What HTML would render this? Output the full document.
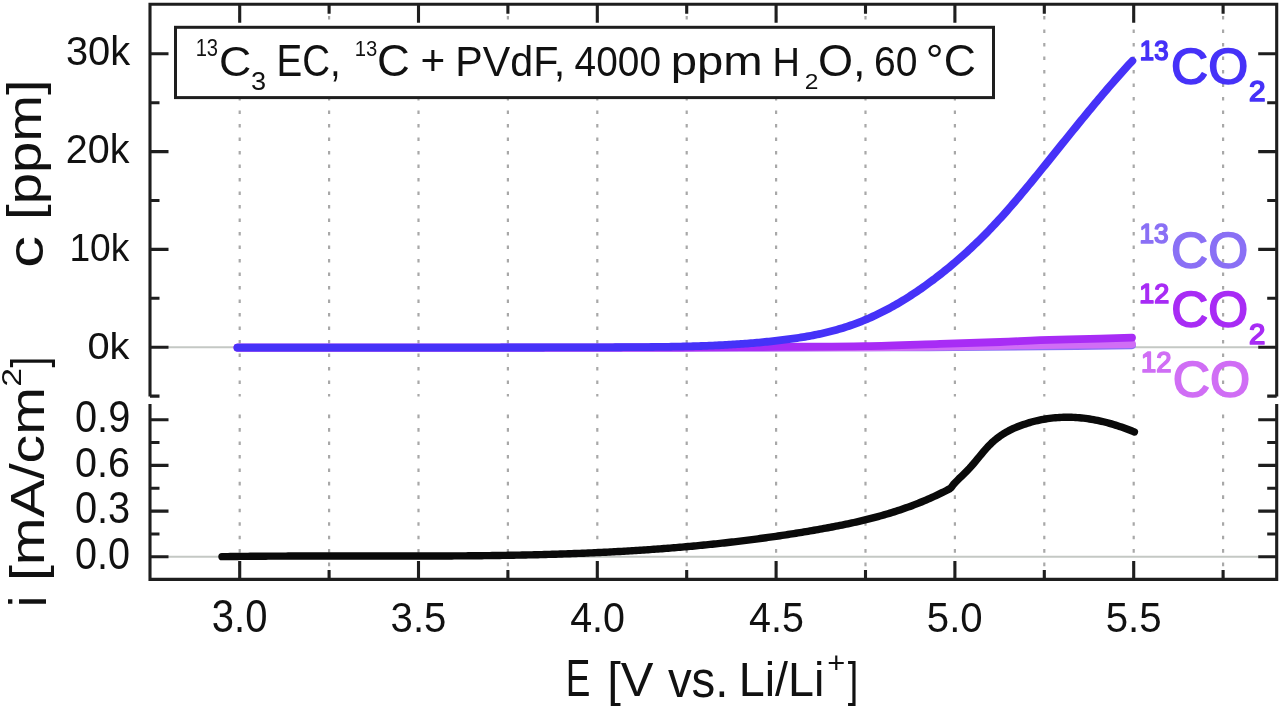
<!DOCTYPE html>
<html><head><meta charset="utf-8"><title>Gas evolution vs potential</title><style>
html,body{margin:0;padding:0;background:#fff;width:1280px;height:706px;overflow:hidden}
svg{display:block}
text{font-family:"Liberation Sans",Arial,sans-serif}
.g{stroke:#a8a8a8;stroke-width:2.2}
.gu{stroke-dasharray:3.6 9.9;stroke-dashoffset:1.8}
.gl{stroke-dasharray:3.6 9.85;stroke-dashoffset:3.85}
.z{stroke:#c4c8c4;stroke-width:2}
.c{fill:none;stroke-width:7.8;stroke-linecap:round;stroke-linejoin:round}
.ax{fill:none;stroke:#1e1e1e;stroke-width:3.1;stroke-linecap:butt;stroke-linejoin:miter}
</style></head><body>
<svg width="1280" height="706" viewBox="0 0 1280 706">
<rect width="1280" height="706" fill="#fff"/>
<line x1="239.7" y1="4.3" x2="239.7" y2="396.5" class="g gu"/>
<line x1="239.7" y1="405" x2="239.7" y2="579.4" class="g gl"/>
<line x1="329.1" y1="4.3" x2="329.1" y2="396.5" class="g gu"/>
<line x1="329.1" y1="405" x2="329.1" y2="579.4" class="g gl"/>
<line x1="418.5" y1="4.3" x2="418.5" y2="396.5" class="g gu"/>
<line x1="418.5" y1="405" x2="418.5" y2="579.4" class="g gl"/>
<line x1="507.9" y1="4.3" x2="507.9" y2="396.5" class="g gu"/>
<line x1="507.9" y1="405" x2="507.9" y2="579.4" class="g gl"/>
<line x1="597.3" y1="4.3" x2="597.3" y2="396.5" class="g gu"/>
<line x1="597.3" y1="405" x2="597.3" y2="579.4" class="g gl"/>
<line x1="686.7" y1="4.3" x2="686.7" y2="396.5" class="g gu"/>
<line x1="686.7" y1="405" x2="686.7" y2="579.4" class="g gl"/>
<line x1="776.1" y1="4.3" x2="776.1" y2="396.5" class="g gu"/>
<line x1="776.1" y1="405" x2="776.1" y2="579.4" class="g gl"/>
<line x1="865.5" y1="4.3" x2="865.5" y2="396.5" class="g gu"/>
<line x1="865.5" y1="405" x2="865.5" y2="579.4" class="g gl"/>
<line x1="954.9" y1="4.3" x2="954.9" y2="396.5" class="g gu"/>
<line x1="954.9" y1="405" x2="954.9" y2="579.4" class="g gl"/>
<line x1="1044.3" y1="4.3" x2="1044.3" y2="396.5" class="g gu"/>
<line x1="1044.3" y1="405" x2="1044.3" y2="579.4" class="g gl"/>
<line x1="1133.7" y1="4.3" x2="1133.7" y2="396.5" class="g gu"/>
<line x1="1133.7" y1="405" x2="1133.7" y2="579.4" class="g gl"/>
<line x1="1223.1" y1="4.3" x2="1223.1" y2="396.5" class="g gu"/>
<line x1="1223.1" y1="405" x2="1223.1" y2="579.4" class="g gl"/>
<line x1="168" y1="347.2" x2="1258" y2="347.2" class="z"/>
<line x1="168" y1="556.8" x2="1258" y2="556.8" class="z"/>
<rect x="175.5" y="27.3" width="818" height="70.3" fill="#fff" stroke="#1e1e1e" stroke-width="3"/>
<path d="M237.5,347.6 C314.58,347.6 595.42,347.63 700,347.6 C804.58,347.57 822.5,347.48 865,347.4 C907.5,347.32 925.17,347.27 955,347.1 C984.83,346.93 1014.5,346.7 1044,346.4 C1073.5,346.1 1117.33,345.48 1132,345.3" class="c" stroke="#8a70f5"/>
<path d="M237.5,347.6 C314.58,347.6 595.42,347.65 700,347.6 C804.58,347.55 825,347.47 865,347.3 C905,347.13 917.5,346.85 940,346.6 C962.5,346.35 983.33,346.07 1000,345.8 C1016.67,345.53 1018,345.3 1040,345 C1062,344.7 1116.67,344.17 1132,344" class="c" stroke="#d06ef5"/>
<path d="M237.5,347.6 C297.92,347.6 522.92,347.63 600,347.6 C677.08,347.57 670.67,347.52 700,347.4 C729.33,347.28 748.5,347.1 776,346.9 C803.5,346.7 837.67,346.7 865,346.2 C892.33,345.7 917.5,344.6 940,343.9 C962.5,343.2 983.33,342.62 1000,342 C1016.67,341.38 1023.33,340.77 1040,340.2 C1056.67,339.63 1084.67,339.03 1100,338.6 C1115.33,338.17 1126.67,337.77 1132,337.6" class="c" stroke="#a82cf5"/>
<path d="M237.5,347.6 L239.5,347.6 L241.5,347.6 L243.5,347.6 L245.5,347.6 L247.5,347.6 L249.5,347.61 L251.5,347.61 L253.5,347.61 L255.5,347.61 L257.5,347.61 L259.5,347.61 L261.5,347.61 L263.5,347.61 L265.5,347.61 L267.5,347.61 L269.5,347.61 L271.5,347.61 L273.5,347.61 L275.5,347.61 L277.5,347.61 L279.5,347.61 L281.5,347.61 L283.5,347.62 L285.5,347.62 L287.5,347.62 L289.5,347.62 L291.5,347.62 L293.5,347.62 L295.5,347.62 L297.5,347.62 L299.5,347.62 L301.5,347.62 L303.5,347.62 L305.5,347.62 L307.5,347.62 L309.5,347.62 L311.5,347.62 L313.5,347.62 L315.5,347.62 L317.5,347.62 L319.5,347.62 L321.5,347.62 L323.5,347.62 L325.5,347.62 L327.5,347.62 L329.5,347.62 L331.5,347.62 L333.5,347.62 L335.5,347.62 L337.5,347.62 L339.5,347.62 L341.5,347.62 L343.5,347.62 L345.5,347.62 L347.5,347.62 L349.5,347.62 L351.5,347.62 L353.5,347.62 L355.5,347.61 L357.5,347.61 L359.5,347.61 L361.5,347.61 L363.5,347.61 L365.5,347.61 L367.5,347.61 L369.5,347.61 L371.5,347.61 L373.5,347.61 L375.5,347.61 L377.5,347.61 L379.5,347.61 L381.5,347.61 L383.5,347.61 L385.5,347.61 L387.5,347.61 L389.5,347.6 L391.5,347.6 L393.5,347.6 L395.5,347.6 L397.5,347.6 L399.5,347.6 L401.5,347.6 L403.5,347.6 L405.5,347.6 L407.5,347.6 L409.5,347.6 L411.5,347.59 L413.5,347.59 L415.5,347.59 L417.5,347.59 L419.5,347.59 L421.5,347.59 L423.5,347.59 L425.5,347.59 L427.5,347.59 L429.5,347.58 L431.5,347.58 L433.5,347.58 L435.5,347.58 L437.5,347.58 L439.5,347.58 L441.5,347.58 L443.5,347.57 L445.5,347.57 L447.5,347.57 L449.5,347.57 L451.5,347.57 L453.5,347.57 L455.5,347.57 L457.5,347.56 L459.5,347.56 L461.5,347.56 L463.5,347.56 L465.5,347.56 L467.5,347.56 L469.5,347.55 L471.5,347.55 L473.5,347.55 L475.5,347.55 L477.5,347.55 L479.5,347.55 L481.5,347.54 L483.5,347.54 L485.5,347.54 L487.5,347.54 L489.5,347.54 L491.5,347.53 L493.5,347.53 L495.5,347.53 L497.5,347.53 L499.5,347.53 L501.5,347.52 L503.5,347.52 L505.5,347.52 L507.5,347.52 L509.5,347.52 L511.5,347.51 L513.5,347.51 L515.5,347.51 L517.5,347.51 L519.5,347.5 L521.5,347.5 L523.5,347.5 L525.5,347.5 L527.5,347.5 L529.5,347.49 L531.5,347.49 L533.5,347.49 L535.5,347.49 L537.5,347.48 L539.5,347.48 L541.5,347.48 L543.5,347.48 L545.5,347.47 L547.5,347.47 L549.5,347.47 L551.5,347.47 L553.5,347.46 L555.5,347.46 L557.5,347.46 L559.5,347.45 L561.5,347.45 L563.5,347.45 L565.5,347.45 L567.5,347.44 L569.5,347.44 L571.5,347.44 L573.5,347.44 L575.5,347.43 L577.5,347.43 L579.5,347.43 L581.5,347.42 L583.5,347.42 L585.5,347.42 L587.5,347.41 L589.5,347.41 L591.5,347.41 L593.5,347.41 L595.5,347.4 L597,347.4 L599,347.38 L601,347.36 L603,347.35 L605,347.33 L607,347.32 L609,347.3 L611,347.29 L613,347.28 L615,347.27 L617,347.25 L619,347.24 L621,347.23 L623,347.22 L625,347.21 L627,347.19 L629,347.18 L631,347.17 L633,347.16 L635,347.14 L637,347.13 L639,347.11 L641,347.1 L643,347.08 L645,347.07 L647,347.05 L649,347.03 L651,347.01 L653,346.99 L655,346.97 L657,346.95 L659,346.92 L661,346.9 L663,346.87 L665,346.84 L667,346.81 L669,346.78 L671,346.75 L673,346.71 L675,346.68 L677,346.64 L679,346.6 L681,346.55 L683,346.51 L685,346.46 L687,346.41 L689,346.36 L691,346.31 L693,346.25 L695,346.19 L697,346.13 L699,346.06 L701,346 L703,345.93 L705,345.85 L707,345.78 L709,345.7 L711,345.62 L713,345.53 L715,345.44 L717,345.35 L719,345.25 L721,345.16 L723,345.05 L725,344.95 L727,344.84 L729,344.72 L731,344.61 L733,344.48 L735,344.36 L737,344.23 L739,344.1 L741,343.96 L743,343.82 L745,343.67 L747,343.52 L749,343.36 L751,343.2 L753,343.04 L755,342.87 L757,342.7 L759,342.52 L761,342.33 L763,342.14 L765,341.95 L767,341.75 L769,341.55 L771,341.34 L773,341.12 L775,340.9 L777,340.68 L779,340.45 L781,340.21 L783,339.97 L785,339.72 L787,339.46 L789,339.2 L791,338.93 L793,338.65 L795,338.36 L797,338.07 L799,337.76 L801,337.45 L803,337.13 L805,336.79 L807,336.45 L809,336.09 L811,335.72 L813,335.34 L815,334.95 L817,334.54 L819,334.13 L821,333.69 L823,333.25 L825,332.79 L827,332.31 L829,331.82 L831,331.31 L833,330.79 L835,330.25 L837,329.7 L839,329.12 L841,328.53 L843,327.92 L845,327.29 L847,326.65 L849,325.98 L851,325.29 L853,324.59 L855,323.86 L857,323.11 L859,322.35 L861,321.56 L863,320.75 L865,319.93 L867,319.08 L869,318.22 L871,317.33 L873,316.42 L875,315.5 L877,314.55 L879,313.58 L881,312.6 L883,311.59 L885,310.56 L887,309.52 L889,308.45 L891,307.37 L893,306.26 L895,305.13 L897,303.99 L899,302.82 L901,301.63 L903,300.43 L905,299.2 L907,297.95 L909,296.69 L911,295.4 L913,294.1 L915,292.77 L917,291.43 L919,290.07 L921,288.68 L923,287.28 L925,285.86 L927,284.43 L929,282.97 L931,281.49 L933,280 L935,278.49 L937,276.96 L939,275.42 L941,273.85 L943,272.27 L945,270.67 L947,269.05 L949,267.41 L951,265.75 L953,264.07 L955,262.37 L957,260.66 L959,258.92 L961,257.16 L963,255.39 L965,253.59 L967,251.77 L969,249.93 L971,248.07 L973,246.19 L975,244.29 L977,242.37 L979,240.42 L981,238.45 L983,236.46 L985,234.45 L987,232.41 L989,230.35 L991,228.27 L993,226.16 L995,224.03 L997,221.88 L999,219.71 L1001,217.51 L1003,215.3 L1005,213.06 L1007,210.81 L1009,208.53 L1011,206.23 L1013,203.92 L1015,201.59 L1017,199.24 L1019,196.88 L1021,194.51 L1023,192.12 L1025,189.72 L1027,187.3 L1029,184.88 L1031,182.44 L1033,180 L1035,177.55 L1037,175.09 L1039,172.62 L1041,170.15 L1043,167.67 L1045,165.19 L1047,162.71 L1049,160.22 L1051,157.73 L1053,155.25 L1055,152.76 L1057,150.27 L1059,147.78 L1061,145.3 L1063,142.81 L1065,140.33 L1067,137.85 L1069,135.37 L1071,132.89 L1073,130.42 L1075,127.95 L1077,125.49 L1079,123.03 L1081,120.58 L1083,118.13 L1085,115.69 L1087,113.26 L1089,110.83 L1091,108.41 L1093,106 L1095,103.6 L1097,101.21 L1099,98.82 L1101,96.45 L1103,94.08 L1105,91.73 L1107,89.39 L1109,87.06 L1111,84.74 L1113,82.43 L1115,80.14 L1117,77.86 L1119,75.59 L1121,73.34 L1123,71.1 L1125,68.88 L1127,66.67 L1129,64.48 L1131,62.3 L1132.4,60.79" class="c" stroke="#4632f8"/>
<path d="M222,556.67 L224,556.64 L226,556.61 L228,556.58 L230,556.55 L232,556.53 L234,556.5 L236,556.47 L238,556.45 L240,556.42 L242,556.4 L244,556.38 L246,556.36 L248,556.34 L250,556.32 L252,556.3 L254,556.28 L256,556.26 L258,556.24 L260,556.23 L262,556.21 L264,556.2 L266,556.18 L268,556.17 L270,556.16 L272,556.15 L274,556.13 L276,556.12 L278,556.11 L280,556.1 L282,556.09 L284,556.08 L286,556.08 L288,556.07 L290,556.06 L292,556.06 L294,556.05 L296,556.04 L298,556.04 L300,556.03 L302,556.03 L304,556.03 L306,556.02 L308,556.02 L310,556.02 L312,556.01 L314,556.01 L316,556.01 L318,556.01 L320,556.01 L322,556.01 L324,556.01 L326,556.01 L328,556.01 L330,556.01 L332,556.01 L334,556.01 L336,556.01 L338,556.01 L340,556.01 L342,556.01 L344,556.01 L346,556.02 L348,556.02 L350,556.02 L352,556.02 L354,556.02 L356,556.03 L358,556.03 L360,556.03 L362,556.03 L364,556.03 L366,556.04 L368,556.04 L370,556.04 L372,556.04 L374,556.04 L376,556.05 L378,556.05 L380,556.05 L382,556.05 L384,556.05 L386,556.05 L388,556.06 L390,556.06 L392,556.06 L394,556.06 L396,556.06 L398,556.06 L400,556.06 L402,556.06 L404,556.06 L406,556.06 L408,556.06 L410,556.05 L412,556.05 L414,556.05 L416,556.05 L418,556.04 L420,556.04 L422,556.04 L424,556.03 L426,556.03 L428,556.02 L430,556.02 L432,556.01 L434,556.01 L436,556 L438,555.99 L440,555.99 L442,555.98 L444,555.97 L446,555.96 L448,555.95 L450,555.94 L452,555.93 L454,555.91 L456,555.9 L458,555.89 L460,555.88 L462,555.86 L464,555.85 L466,555.83 L468,555.81 L470,555.8 L472,555.78 L474,555.76 L476,555.74 L478,555.72 L480,555.7 L482,555.68 L484,555.66 L486,555.63 L488,555.61 L490,555.58 L492,555.56 L494,555.53 L496,555.5 L498,555.47 L500,555.44 L502,555.41 L504,555.38 L506,555.35 L508,555.31 L510,555.28 L512,555.24 L514,555.21 L516,555.17 L518,555.13 L520,555.09 L522,555.05 L524,555.01 L526,554.97 L528,554.92 L530,554.88 L532,554.83 L534,554.78 L536,554.73 L538,554.68 L540,554.63 L542,554.58 L544,554.53 L546,554.47 L548,554.42 L550,554.36 L552,554.3 L554,554.24 L556,554.18 L558,554.12 L560,554.05 L562,553.99 L564,553.92 L566,553.85 L568,553.78 L570,553.71 L572,553.64 L574,553.57 L576,553.49 L578,553.42 L580,553.34 L582,553.26 L584,553.18 L586,553.09 L588,553.01 L590,552.92 L592,552.84 L594,552.75 L596,552.66 L598,552.57 L600,552.47 L602,552.38 L604,552.28 L606,552.18 L608,552.08 L610,551.98 L612,551.88 L614,551.77 L616,551.66 L618,551.56 L620,551.44 L622,551.33 L624,551.22 L626,551.1 L628,550.99 L630,550.87 L632,550.74 L634,550.62 L636,550.5 L638,550.37 L640,550.24 L642,550.11 L644,549.98 L646,549.84 L648,549.71 L650,549.57 L652,549.43 L654,549.29 L656,549.14 L658,549 L660,548.85 L662,548.7 L664,548.54 L666,548.39 L668,548.23 L670,548.07 L672,547.91 L674,547.75 L676,547.59 L678,547.42 L680,547.25 L682,547.08 L684,546.9 L686,546.73 L688,546.55 L690,546.37 L692,546.19 L694,546 L696,545.81 L698,545.62 L700,545.43 L702,545.24 L704,545.04 L706,544.84 L708,544.64 L710,544.44 L712,544.23 L714,544.03 L716,543.81 L718,543.6 L720,543.39 L722,543.17 L724,542.95 L726,542.73 L728,542.5 L730,542.27 L732,542.04 L734,541.81 L736,541.57 L738,541.33 L740,541.09 L742,540.85 L744,540.61 L746,540.36 L748,540.11 L750,539.85 L752,539.6 L754,539.34 L756,539.08 L758,538.81 L760,538.54 L762,538.27 L764,538 L766,537.73 L768,537.45 L770,537.17 L772,536.88 L774,536.6 L776,536.31 L778,536.02 L780,535.72 L782,535.42 L784,535.12 L786,534.82 L788,534.51 L790,534.2 L792,533.89 L794,533.57 L796,533.26 L798,532.94 L800,532.61 L802,532.28 L804,531.95 L806,531.62 L808,531.28 L810,530.94 L812,530.6 L814,530.26 L816,529.91 L818,529.56 L820,529.2 L822,528.84 L824,528.48 L826,528.12 L828,527.75 L830,527.38 L832,527 L834,526.62 L836,526.23 L838,525.84 L840,525.44 L842,525.04 L844,524.63 L846,524.22 L848,523.8 L850,523.37 L852,522.94 L854,522.5 L856,522.05 L858,521.59 L860,521.13 L862,520.66 L864,520.18 L866,519.7 L868,519.2 L870,518.7 L872,518.18 L874,517.66 L876,517.13 L878,516.59 L880,516.04 L882,515.47 L884,514.9 L886,514.32 L888,513.73 L890,513.12 L892,512.5 L894,511.88 L896,511.24 L898,510.58 L900,509.92 L902,509.24 L904,508.55 L906,507.85 L908,507.13 L910,506.4 L912,505.66 L914,504.9 L916,504.13 L918,503.34 L920,502.54 L922,501.73 L924,500.9 L926,500.05 L928,499.19 L930,498.31 L932,497.42 L934,496.5 L936,495.58 L938,494.63 L940,493.67 L942,492.69 L944,491.7 L946,490.68 L948,489.65 L950,488.6 L951.5,487.2 L953.5,484.37 L955.5,482.26 L957.5,480.23 L959.5,478.24 L961.5,476.28 L963.5,474.33 L965.5,472.35 L967.5,470.32 L969.5,468.23 L971.5,466.04 L973.5,463.75 L975.5,461.37 L977.5,458.95 L979.5,456.5 L981.5,454.07 L983.5,451.68 L985.5,449.35 L987.5,447.12 L989.5,445.03 L991.5,443.06 L993.5,441.23 L995.5,439.52 L997.5,437.92 L999.5,436.43 L1001.5,435.05 L1003.5,433.75 L1005.5,432.55 L1007.5,431.43 L1009.5,430.38 L1011.5,429.4 L1013.5,428.47 L1015.5,427.61 L1017.5,426.79 L1019.5,426.01 L1021.5,425.26 L1023.5,424.56 L1025.5,423.88 L1027.5,423.24 L1029.5,422.63 L1031.5,422.06 L1033.5,421.52 L1035.5,421.02 L1037.5,420.54 L1039.5,420.1 L1041.5,419.7 L1043.5,419.32 L1045.5,418.98 L1047.5,418.67 L1049.5,418.39 L1051.5,418.14 L1053.5,417.92 L1055.5,417.73 L1057.5,417.57 L1059.5,417.45 L1061.5,417.35 L1063.5,417.28 L1065.5,417.25 L1067.5,417.24 L1069.5,417.26 L1071.5,417.31 L1073.5,417.38 L1075.5,417.49 L1077.5,417.62 L1079.5,417.78 L1081.5,417.97 L1083.5,418.19 L1085.5,418.43 L1087.5,418.7 L1089.5,418.99 L1091.5,419.31 L1093.5,419.66 L1095.5,420.03 L1097.5,420.43 L1099.5,420.85 L1101.5,421.3 L1103.5,421.77 L1105.5,422.27 L1107.5,422.79 L1109.5,423.34 L1111.5,423.9 L1113.5,424.49 L1115.5,425.11 L1117.5,425.74 L1119.5,426.4 L1121.5,427.08 L1123.5,427.79 L1125.5,428.51 L1127.5,429.26 L1129.5,430.03 L1131.5,430.81 L1133.5,431.62 L1134.4,431.99" class="c" stroke="#0a0a0a" style="stroke-width:7.4"/>
<path d="M150,396.5 V4.3 H1276.7 V396.5 M150,404 V579.4 H1276.7 V404 M239.7,4.3 v18.5 M239.7,579.4 v-18.5 M329.1,4.3 v9.5 M329.1,579.4 v-9.5 M418.5,4.3 v18.5 M418.5,579.4 v-18.5 M507.9,4.3 v9.5 M507.9,579.4 v-9.5 M597.3,4.3 v18.5 M597.3,579.4 v-18.5 M686.7,4.3 v9.5 M686.7,579.4 v-9.5 M776.1,4.3 v18.5 M776.1,579.4 v-18.5 M865.5,4.3 v9.5 M865.5,579.4 v-9.5 M954.9,4.3 v18.5 M954.9,579.4 v-18.5 M1044.3,4.3 v9.5 M1044.3,579.4 v-9.5 M1133.7,4.3 v18.5 M1133.7,579.4 v-18.5 M1223.1,4.3 v9.5 M1223.1,579.4 v-9.5 M150,396.1 h9.5 M1276.7,396.1 h-9.5 M150,347.2 h18.5 M1276.7,347.2 h-18.5 M150,298.3 h9.5 M1276.7,298.3 h-9.5 M150,249.4 h18.5 M1276.7,249.4 h-18.5 M150,200.5 h9.5 M1276.7,200.5 h-9.5 M150,151.6 h18.5 M1276.7,151.6 h-18.5 M150,102.7 h9.5 M1276.7,102.7 h-9.5 M150,53.8 h18.5 M1276.7,53.8 h-18.5 M150,556.8 h18.5 M1276.7,556.8 h-18.5 M150,533.95 h9.5 M1276.7,533.95 h-9.5 M150,511.1 h18.5 M1276.7,511.1 h-18.5 M150,488.25 h9.5 M1276.7,488.25 h-9.5 M150,465.4 h18.5 M1276.7,465.4 h-18.5 M150,442.55 h9.5 M1276.7,442.55 h-9.5 M150,419.7 h18.5 M1276.7,419.7 h-18.5" class="ax"/>
<text id="u30" x="65.91" y="65.46" font-size="41.52" textLength="64.23" lengthAdjust="spacingAndGlyphs" fill="#111">30k</text>
<text id="u20" x="65.87" y="163.41" font-size="39.79" textLength="63.72" lengthAdjust="spacingAndGlyphs" fill="#111">20k</text>
<text id="u10" x="69.46" y="261.25" font-size="38.41" textLength="59.93" lengthAdjust="spacingAndGlyphs" fill="#111">10k</text>
<text id="u0" x="87.4" y="359" font-size="37.61" textLength="42.06" lengthAdjust="spacingAndGlyphs" fill="#111">0k</text>
<text id="l9" x="75" y="432" font-size="44.54" textLength="55.24" lengthAdjust="spacingAndGlyphs" fill="#111">0.9</text>
<text id="l6" x="75.03" y="477.38" font-size="41.72" textLength="54.94" lengthAdjust="spacingAndGlyphs" fill="#111">0.6</text>
<text id="l3" x="74.88" y="523.44" font-size="44.49" textLength="55.38" lengthAdjust="spacingAndGlyphs" fill="#111">0.3</text>
<text id="l0" x="74.89" y="569.18" font-size="44.16" textLength="55.02" lengthAdjust="spacingAndGlyphs" fill="#111">0.0</text>
<text id="x0" x="211.84" y="632" font-size="45.32" textLength="55.57" lengthAdjust="spacingAndGlyphs" fill="#111">3.0</text>
<text id="x1" x="390.59" y="632" font-size="42.63" textLength="55.78" lengthAdjust="spacingAndGlyphs" fill="#111">3.5</text>
<text id="x2" x="570.2" y="632" font-size="42.63" textLength="54.8" lengthAdjust="spacingAndGlyphs" fill="#111">4.0</text>
<text id="x3" x="749.12" y="632" font-size="42.63" textLength="54.8" lengthAdjust="spacingAndGlyphs" fill="#111">4.5</text>
<text id="x4" x="926.86" y="632" font-size="42.63" textLength="55.86" lengthAdjust="spacingAndGlyphs" fill="#111">5.0</text>
<text id="x5" x="1105.66" y="632" font-size="42.63" textLength="55.97" lengthAdjust="spacingAndGlyphs" fill="#111">5.5</text>
<text id="xt1" x="565.76" y="696.25" font-size="51.37" textLength="24.63" lengthAdjust="spacingAndGlyphs" fill="#111">E</text>
<text id="xt1b" x="607.2" y="696.25" font-size="49" textLength="46.31" lengthAdjust="spacingAndGlyphs" fill="#111">[V</text>
<text id="xt1c" x="667.88" y="696.55" font-size="50.89" textLength="60.63" lengthAdjust="spacingAndGlyphs" fill="#111">vs.</text>
<text id="xt1d" x="738.8" y="696.25" font-size="48.96" textLength="85.56" lengthAdjust="spacingAndGlyphs" fill="#111">Li/Li</text>
<text id="xt2" x="827.28" y="672.9" font-size="30.16" textLength="18.05" lengthAdjust="spacingAndGlyphs" fill="#111">+</text>
<text id="xt3" x="847.79" y="696.25" font-size="48.85" textLength="10.52" lengthAdjust="spacingAndGlyphs" fill="#111">]</text>
<text id="yt1" x="43.4" y="267.88" font-size="50.63" textLength="32.09" lengthAdjust="spacingAndGlyphs" fill="#111" transform="rotate(-90 43.4 267.88)">c</text>
<text id="yt1b" x="41.08" y="219.91" font-size="47.24" textLength="140.55" lengthAdjust="spacingAndGlyphs" fill="#111" transform="rotate(-90 41.08 219.91)">[ppm]</text>
<text id="yt0" x="45.95" y="607.26" font-size="51.86" textLength="11.64" lengthAdjust="spacingAndGlyphs" fill="#111" transform="rotate(-90 45.95 607.26)">i</text>
<text id="yt2" x="44.21" y="581.03" font-size="48.51" textLength="193.96" lengthAdjust="spacingAndGlyphs" fill="#111" transform="rotate(-90 44.21 581.03)">[mA/cm</text>
<text id="yt3" x="20.57" y="386.75" font-size="28.38" textLength="18.68" lengthAdjust="spacingAndGlyphs" fill="#111" transform="rotate(-90 20.57 386.75)">2</text>
<text id="yt4" x="44.57" y="367.55" font-size="48.65" textLength="10.73" lengthAdjust="spacingAndGlyphs" fill="#111" transform="rotate(-90 44.57 367.55)">]</text>
<text id="lg1" x="195.64" y="55.9" font-size="24.51" textLength="22.43" lengthAdjust="spacingAndGlyphs" fill="#111">13</text>
<text id="lg2" x="218.91" y="75.5" font-size="42.47" textLength="32.25" lengthAdjust="spacingAndGlyphs" fill="#111">C</text>
<text id="lg3" x="251.06" y="89.65" font-size="26.48" textLength="15.12" lengthAdjust="spacingAndGlyphs" fill="#111">3</text>
<text id="lg4" x="276.55" y="75.5" font-size="43.75" textLength="64.26" lengthAdjust="spacingAndGlyphs" fill="#111">EC,</text>
<text id="lg5" x="354.63" y="55.61" font-size="22.39" textLength="22.51" lengthAdjust="spacingAndGlyphs" fill="#111">13</text>
<text id="lg6" x="377.1" y="75.5" font-size="44.3" textLength="32.87" lengthAdjust="spacingAndGlyphs" fill="#111">C</text>
<text id="lg6b" x="420.48" y="75.32" font-size="42.21" textLength="24.76" lengthAdjust="spacingAndGlyphs" fill="#111">+</text>
<text id="lg6c" x="455.22" y="75.5" font-size="42.13" textLength="110.03" lengthAdjust="spacingAndGlyphs" fill="#111">PVdF,</text>
<text id="lg6d" x="574.62" y="75.5" font-size="43.33" textLength="86.36" lengthAdjust="spacingAndGlyphs" fill="#111">4000</text>
<text id="lg6e" x="670.79" y="74.73" font-size="39.94" textLength="91.98" lengthAdjust="spacingAndGlyphs" fill="#111">ppm</text>
<text id="lg6f" x="772.39" y="75.5" font-size="41.12" textLength="27.43" lengthAdjust="spacingAndGlyphs" fill="#111">H</text>
<text id="lg7" x="804.73" y="88.75" font-size="22.38" textLength="13.68" lengthAdjust="spacingAndGlyphs" fill="#111">2</text>
<text id="lg8" x="818.07" y="75.5" font-size="44.27" textLength="47.54" lengthAdjust="spacingAndGlyphs" fill="#111">O,</text>
<text id="lg8b" x="874.04" y="75.5" font-size="41.89" textLength="43.44" lengthAdjust="spacingAndGlyphs" fill="#111">60</text>
<text id="lg8c" x="925.85" y="75.5" font-size="44.22" textLength="49.95" lengthAdjust="spacingAndGlyphs" fill="#111">°C</text>
<text id="a1" x="1139.87" y="59.5" font-size="26.72" textLength="28.55" lengthAdjust="spacingAndGlyphs" fill="#4632f8" stroke="#4632f8" stroke-width="1.7" stroke-linejoin="round">13</text>
<text id="a2" x="1171.04" y="83.94" font-size="49.41" textLength="77.06" lengthAdjust="spacingAndGlyphs" fill="#4632f8" stroke="#4632f8" stroke-width="1.7" stroke-linejoin="round">CO</text>
<text id="a3" x="1248.94" y="100.5" font-size="29.22" textLength="16.51" lengthAdjust="spacingAndGlyphs" fill="#4632f8" stroke="#4632f8" stroke-width="1.7" stroke-linejoin="round">2</text>
<text id="b1" x="1139.38" y="243.16" font-size="27.48" textLength="29.07" lengthAdjust="spacingAndGlyphs" fill="#8a70f5" stroke="#8a70f5" stroke-width="1.7" stroke-linejoin="round">13</text>
<text id="b2" x="1171.12" y="267.9" font-size="50.36" textLength="76.99" lengthAdjust="spacingAndGlyphs" fill="#8a70f5" stroke="#8a70f5" stroke-width="1.7" stroke-linejoin="round">CO</text>
<text id="c1" x="1139.3" y="302.96" font-size="28.19" textLength="29.95" lengthAdjust="spacingAndGlyphs" fill="#a82cf5" stroke="#a82cf5" stroke-width="1.7" stroke-linejoin="round">12</text>
<text id="c2" x="1171.18" y="327.38" font-size="49.09" textLength="76.97" lengthAdjust="spacingAndGlyphs" fill="#a82cf5" stroke="#a82cf5" stroke-width="1.7" stroke-linejoin="round">CO</text>
<text id="c3" x="1248.94" y="343.82" font-size="28.87" textLength="16.34" lengthAdjust="spacingAndGlyphs" fill="#a82cf5" stroke="#a82cf5" stroke-width="1.7" stroke-linejoin="round">2</text>
<text id="d1" x="1140.94" y="371.5" font-size="29.28" textLength="30.51" lengthAdjust="spacingAndGlyphs" fill="#d06ef5" stroke="#d06ef5" stroke-width="1.7" stroke-linejoin="round">12</text>
<text id="d2" x="1172.69" y="397.05" font-size="49.76" textLength="77.46" lengthAdjust="spacingAndGlyphs" fill="#d06ef5" stroke="#d06ef5" stroke-width="1.7" stroke-linejoin="round">CO</text>
</svg>
</body></html>
